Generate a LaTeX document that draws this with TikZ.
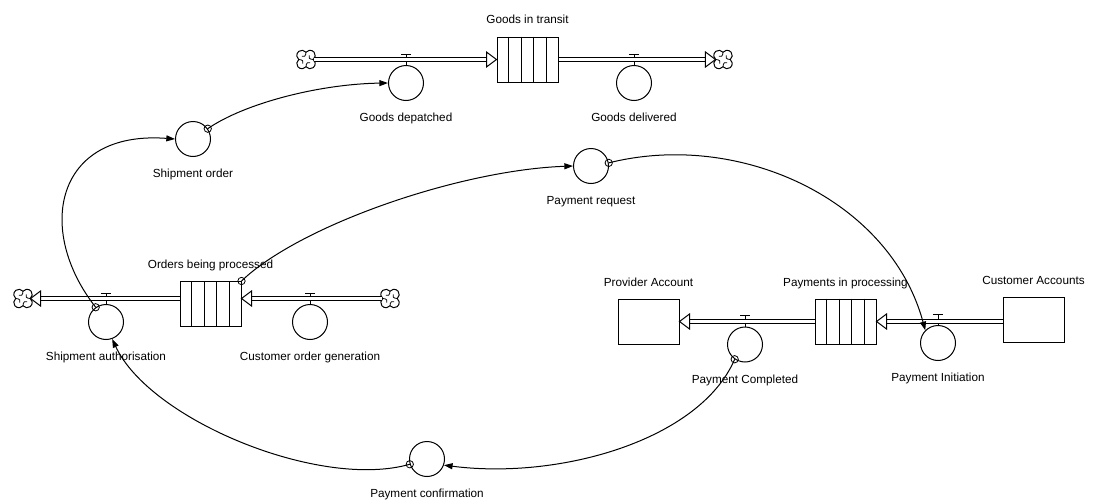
\documentclass[tikz,border=0pt]{standalone}
\usepackage{fontspec}
\setmainfont{Liberation Sans}
\usetikzlibrary{arrows.meta,calc,decorations.markings}

\begin{document}
\begin{tikzpicture}[x=0.75pt,y=-0.75pt,font=\fontsize{8.8}{10}\selectfont,
	stock/.style={draw,line width=0.75pt,minimum width=45.75pt,minimum height=33.75pt,inner sep=0pt},
	valve/.style={circle,draw,line width=0.75pt,minimum size=26.25pt,inner sep=0pt},
	cloudy/.style={circle,minimum size=10.9pt,inner sep=0pt},
	lbl/.style={inner sep=0pt,text height=6.5pt,text depth=0pt},
	pipe/.style={double distance=2.25pt,line width=0.75pt,shorten >=7pt,
		postaction={decorate,decoration={markings,mark=at position 1 with {\draw[line width=0.75pt,fill=white] (0,0) -- (-7.5pt,5.6pt) -- (-7.5pt,-5.6pt) -- cycle;}}}},
	link/.style={line width=0.75pt,-{Triangle[length=6.5pt,width=4.5pt]}},
	tail/.style={circle,draw,line width=0.6pt,inner sep=0pt,minimum size=5.5pt}]
	\useasboundingbox (0,0) rectangle (1093,500);

	% stocks
	\node[stock,label={[lbl,label distance=9.5pt]above:Goods in transit}] (transit) at (527.5,59.5) {};
	\node[stock,label={[lbl,label distance=9pt]above:Orders being processed}] (orders) at (210.5,304) {};
	\node[stock,label={[lbl,label distance=9pt]above:Payments in processing}] (payproc) at (845.5,321.5) {};
	\node[stock,label={[lbl,label distance=9pt]above:Provider Account}] (provider) at (648.5,321.5) {};
	\node[stock,label={[lbl,label distance=9pt]above:Customer Accounts}] (custacc) at (1033.5,320) {};
	\foreach \s in {transit,orders,payproc}
		\foreach \f in {0.2,0.4,0.6,0.8}
			\draw[line width=0.75pt] ($(\s.north west)!\f!(\s.north east)$) -- ($(\s.south west)!\f!(\s.south east)$);

	% clouds
	\node[cloudy] (src1) at (306,59.5) {};
	\node[cloudy] (snk1) at (723,59.5) {};
	\node[cloudy] (snk2) at (23,298.5) {};
	\node[cloudy] (src2) at (390,298.5) {};
	\foreach \c in {src1,snk1,snk2,src2}{
		\draw[line width=0.75pt,shift={(\c)},y=0.75pt,scale=1.15] (6.32,0)
			arc[start angle=-51.8,end angle=141.8,radius=4.5]
			arc[start angle=38.2,end angle=231.8,radius=4.5]
			arc[start angle=128.2,end angle=321.8,radius=4.5]
			arc[start angle=218.2,end angle=411.8,radius=4.5] -- cycle;
		\foreach \a in {0,90,180,270}
			\draw[line width=0.6pt,shift={(\c)},y=0.75pt,scale=1.15,rotate=\a] (6.32,0) .. controls (3,0) and (1.5,2) .. (2.8,3.6);
	}

	% valves
	\node[valve,label={[lbl,label distance=8.9pt]below:Goods depatched}] (depatched) at (406,83) {};
	\node[valve,label={[lbl,label distance=8.9pt]below:Goods delivered}] (delivered) at (634,83) {};
	\node[valve,label={[lbl,label distance=8.9pt]below:Shipment authorisation}] (authorisation) at (106,322) {};
	\node[valve,label={[lbl,label distance=8.9pt]below:Customer order generation}] (generation) at (310,322) {};
	\node[valve,label={[lbl,label distance=8.9pt]below:Payment Completed}] (completed) at (745,344.5) {};
	\node[valve,label={[lbl,label distance=8.9pt]below:Payment Initiation}] (initiation) at (938,343) {};
	\foreach \v in {depatched,delivered,authorisation,generation,completed,initiation}
		\draw[line width=0.75pt] (\v.north) -- ++(0,-11) ++(-5,0) -- ++(10,0);

	% converters
	\node[valve,label={[lbl,label distance=8.9pt]below:Shipment order}] (shiporder) at (193,139) {};
	\node[valve,label={[lbl,label distance=8.9pt]below:Payment request}] (payrequest) at (591,166) {};
	\node[valve,label={[lbl,label distance=8.9pt]below:Payment confirmation}] (payconfirm) at (427,459) {};

	% flows
	\draw[pipe] (src1.east) -- (src1.east -| transit.west);
	\draw[pipe] (transit.east) -- (transit.east -| snk1.west);
	\draw[pipe] (snk2.east -| orders.west) -- (snk2.east);
	\draw[pipe] (src2.west) -- (src2.west -| orders.east);
	\draw[pipe] (payproc.west) -- (provider.east);
	\draw[pipe] (custacc.west |- payproc.east) -- (payproc.east);

	% links
	\draw[link] (shiporder.35) node[tail] {} .. controls (245,103) and (320,84) .. (depatched.west);
	\draw[link] (orders.north east) node[tail] {} .. controls (300,225) and (460,170) .. (payrequest.west);
	\draw[link] (payrequest.10) node[tail] {} .. controls (740,130) and (890,200) .. (initiation.135);
	\draw[link] (authorisation.125) node[tail] {} .. controls (35,230) and (55,130) .. (shiporder.west);
	\draw[link] (payconfirm.197) node[tail] {} .. controls (320,490) and (150,420) .. (authorisation.290);
	\draw[link] (completed.235) node[tail] {} .. controls (700,440) and (560,480) .. (payconfirm.340);
\end{tikzpicture}
\end{document}
